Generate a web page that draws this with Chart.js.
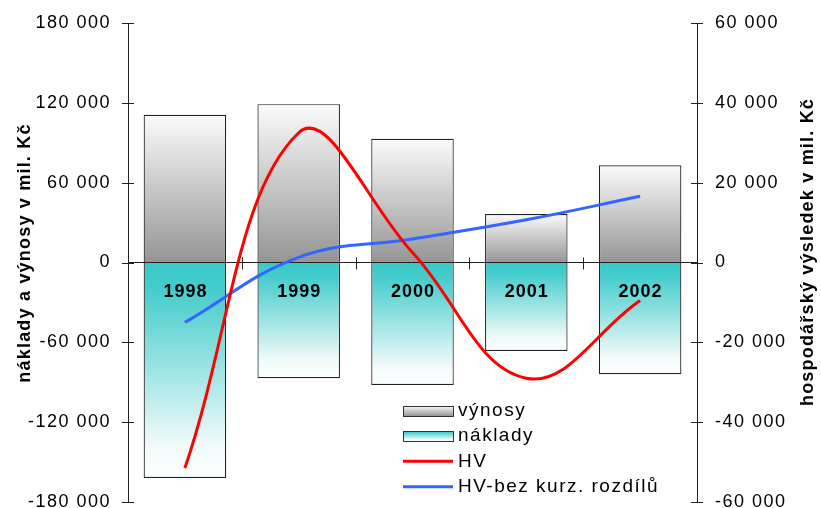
<!DOCTYPE html>
<html><head><meta charset="utf-8">
<script src="https://cdn.jsdelivr.net/npm/chart.js@4/dist/chart.umd.min.js"></script>
<style>html,body{margin:0;padding:0;background:#fff}canvas{display:block}</style>
</head><body>
<canvas id="c" width="821" height="508"></canvas>
<script>
// ---- data ----
const years = ['1998', '1999', '2000', '2001', '2002'];
const vynosy = [111000, 119000, 93000, 36500, 73000];
const naklady = [-162000, -87000, -92000, -66500, -84000];
const hv = [-51500, 32500, 2500, -29000, -9500];
const hvBezKurz = [-15000, 1300, 5900, 10700, 16600];
const leftAxisTitle = 'náklady a výnosy v mil. Kč';
const rightAxisTitle = 'hospodářský výsledek v mil. Kč';
const seriesNames = ['výnosy', 'náklady', 'HV', 'HV-bez kurz. rozdílů'];

const FONT = 'Arial, "Liberation Sans", sans-serif';
Chart.defaults.font.family = FONT;
Chart.defaults.color = '#000';

function fmt(v) {
  const s = Math.abs(v).toString().replace(/\B(?=(\d{3})+(?!\d))/g, ' ');
  return (v < 0 ? '-' : '') + s;
}

function grayGrad(ctx, top, bottom) {
  const g = ctx.createLinearGradient(0, top, 0, bottom);
  g.addColorStop(0, '#fbfbfb');
  g.addColorStop(1, '#959595');
  return g;
}
function tealGrad(ctx, top, bottom) {
  const g = ctx.createLinearGradient(0, top, 0, bottom);
  g.addColorStop(0, '#38c9c9');
  g.addColorStop(0.12, '#44cccc');
  g.addColorStop(0.85, '#f2fafa');
  g.addColorStop(1, '#fcfefe');
  return g;
}

function barFill(kind) {
  return (c) => {
    const chart = c.chart;
    if (!chart.chartArea || c.raw === undefined) return kind === 'v' ? '#bbb' : '#8dd';
    const ys = chart.scales.y;
    const p = ys.getPixelForValue(c.raw), b = ys.getPixelForValue(0);
    return kind === 'v' ? grayGrad(chart.ctx, p, b) : tealGrad(chart.ctx, b, p);
  };
}

const spacingPlugin = {
  id: 'spacing',
  beforeInit(c) { c.ctx.letterSpacing = '1.5px'; },
  beforeUpdate(c) { c.ctx.letterSpacing = '1.5px'; },
  beforeDraw(c) { c.ctx.letterSpacing = '1.5px'; }
};

const decorPlugin = {
  id: 'decor',
  afterDraw(c) {
    const ctx = c.ctx, y = c.scales.y, y1 = c.scales.y1, x = c.scales.x;
    ctx.save();
    ctx.strokeStyle = '#222';
    ctx.lineWidth = 1;
    ctx.beginPath();
    y.ticks.forEach((t, i) => {
      const p = Math.round(y.getPixelForTick(i)) + 0.5;
      ctx.moveTo(y.right - 6, p); ctx.lineTo(y.right + 6, p);
    });
    y1.ticks.forEach((t, i) => {
      const p = Math.round(y1.getPixelForTick(i)) + 0.5;
      ctx.moveTo(y1.left - 6, p); ctx.lineTo(y1.left + 6, p);
    });
    const z = Math.round(y.getPixelForValue(0)) + 0.5;
    for (let i = 1; i < years.length; i++) {
      const px = Math.round((x.getPixelForValue(i - 1) + x.getPixelForValue(i)) / 2) + 0.5;
      ctx.moveTo(px, z - 6); ctx.lineTo(px, z + 6);
    }
    ctx.stroke();

    // category labels just below the zero line
    ctx.font = 'bold 18px ' + FONT;
    ctx.letterSpacing = '1px';
    ctx.fillStyle = '#000';
    ctx.textAlign = 'center';
    ctx.textBaseline = 'middle';
    c.data.labels.forEach((lab, i) => {
      ctx.fillText(lab, x.getPixelForValue(i) + 0.5, z + 29);
    });

    // axis titles
    ctx.font = 'bold 18px ' + FONT;
    ctx.letterSpacing = '1.2px';
    ctx.save(); ctx.translate(25, 253); ctx.rotate(-Math.PI / 2); ctx.fillText(leftAxisTitle, 0, 0); ctx.restore();
    ctx.save(); ctx.translate(808, 252); ctx.rotate(-Math.PI / 2); ctx.fillText(rightAxisTitle, 0, 0); ctx.restore();

    // legend
    const ds = c.data.datasets;
    ctx.font = '19px ' + FONT;
    ctx.letterSpacing = '1.5px';
    ctx.textAlign = 'left';
    ctx.textBaseline = 'middle';
    const sx0 = 403, sx1 = 453, tx = 458;
    ds.forEach((d, i) => {
      const ry = 410.5 + i * 25.4;
      if (d.type === 'bar') {
        const top = Math.round(ry - 5), h = 10;
        ctx.fillStyle = i === 0 ? grayGrad(ctx, top, top + h) : tealGrad(ctx, top, top + h);
        ctx.fillRect(sx0, top, sx1 - sx0, h);
        ctx.strokeStyle = '#333';
        ctx.lineWidth = 1;
        ctx.strokeRect(sx0 + 0.5, top + 0.5, sx1 - sx0, h);
      } else {
        ctx.strokeStyle = d.borderColor;
        ctx.lineWidth = 3;
        ctx.beginPath(); ctx.moveTo(sx0, ry); ctx.lineTo(sx1, ry); ctx.stroke();
      }
      ctx.fillStyle = '#000';
      ctx.fillText(d.label, tx, ry);
    });
    ctx.restore();
  }
};

new Chart(document.getElementById('c'), {
  type: 'bar',
  data: {
    labels: years,
    datasets: [
      { type: 'bar', label: seriesNames[0], data: vynosy, yAxisID: 'y', grouped: false,
        backgroundColor: barFill('v'), borderColor: '#222', borderWidth: 1.2, borderSkipped: 'start',
        barPercentage: 0.725, categoryPercentage: 1, order: 3 },
      { type: 'bar', label: seriesNames[1], data: naklady, yAxisID: 'y', grouped: false,
        backgroundColor: barFill('n'), borderColor: '#222', borderWidth: 1.2, borderSkipped: 'start',
        barPercentage: 0.725, categoryPercentage: 1, order: 3 },
      { type: 'line', label: seriesNames[2], data: hv, yAxisID: 'y1', borderColor: '#ff0000',
        borderWidth: 3, pointRadius: 0, tension: 0.4, fill: false, order: 1 },
      { type: 'line', label: seriesNames[3], data: hvBezKurz, yAxisID: 'y1', borderColor: '#3366ff',
        borderWidth: 3, pointRadius: 0, tension: 0.4, fill: false, order: 2 }
    ]
  },
  options: {
    responsive: false,
    animation: false,
    devicePixelRatio: 1,
    layout: { padding: { top: 23, bottom: 6, left: 0, right: 0 } },
    plugins: { legend: { display: false }, tooltip: { enabled: false } },
    scales: {
      x: {
        type: 'category',
        position: { y: 0 },
        offset: true,
        z: 1,
        grid: { offset: true, drawOnChartArea: false, drawTicks: false, color: '#222' },
        border: { color: '#222', width: 1 },
        ticks: { display: false, padding: 0 }
      },
      y: {
        position: 'left',
        min: -180000, max: 180000,
        ticks: { stepSize: 60000, callback: (v) => fmt(v), font: { size: 18, lineHeight: 0.6 }, color: '#000', padding: 0 },
        grid: { drawOnChartArea: false, tickColor: 'rgba(0,0,0,0)', tickLength: 17 },
        border: { color: '#222', width: 1 },
        afterFit: (s) => { s.width = 128; }
      },
      y1: {
        position: 'right',
        min: -60000, max: 60000,
        ticks: { stepSize: 20000, callback: (v) => fmt(v), font: { size: 18, lineHeight: 0.6 }, color: '#000', padding: 0 },
        grid: { drawOnChartArea: false, tickColor: 'rgba(0,0,0,0)', tickLength: 18 },
        border: { color: '#222', width: 1 },
        afterFit: (s) => { s.width = 124; }
      }
    }
  },
  plugins: [spacingPlugin, decorPlugin]
});
</script>
</body></html>
